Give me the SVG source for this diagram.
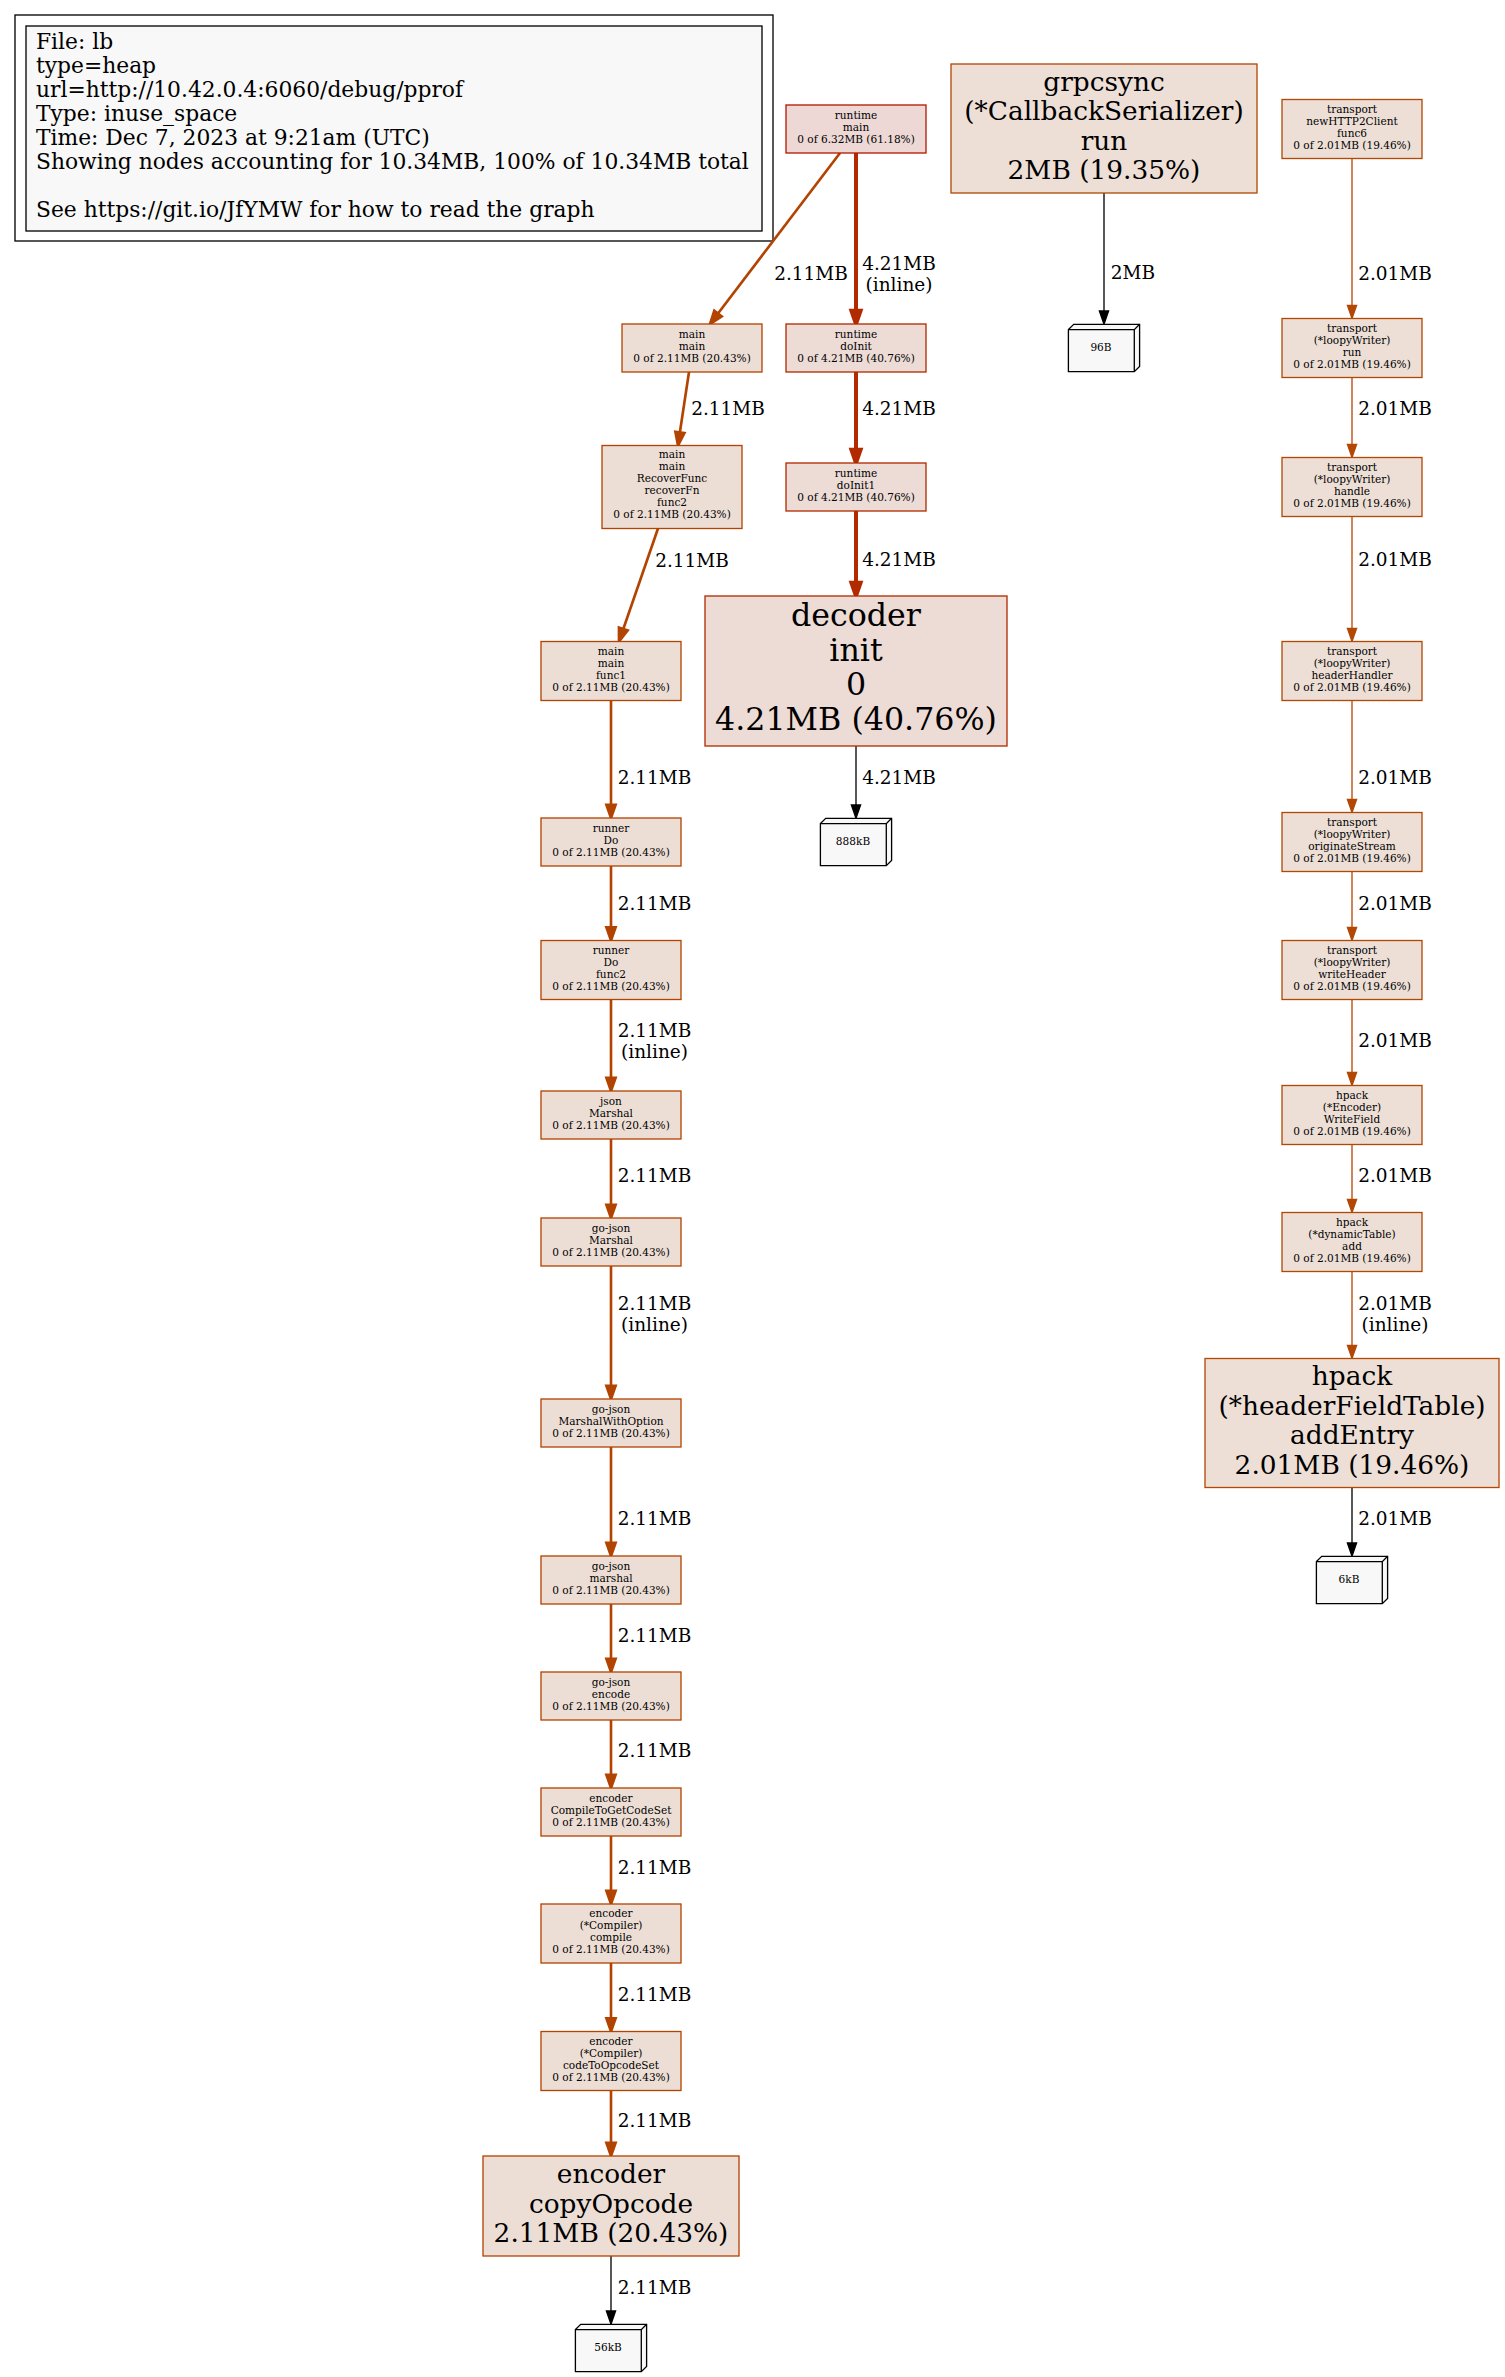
<svg xmlns="http://www.w3.org/2000/svg" width="1505" height="2377" viewBox="0 0 1505 2377">
<style>
text{font-family:"DejaVu Serif","Liberation Serif",serif;fill:#000}
.s{font-size:10.56px;text-anchor:middle}
.b{font-size:26.4px;text-anchor:middle}
.d{font-size:31.7px;text-anchor:middle}
.l{font-size:18.5px;text-anchor:middle}
.g{font-size:21.8px}
rect,path,polygon{stroke-width:1.32}
.c61{fill:#edd8d5;stroke:#b21800}
.c40{fill:#eddbd5;stroke:#b22a00}
.c20{fill:#edded5;stroke:#b24300}
.c19{fill:#eddfd6;stroke:#b24804}
.tag{fill:#f8f8f8;stroke:#000}
.e42{stroke:#b22a00;stroke-width:3.96;fill:none}
.a42{fill:#b22a00;stroke:#b22a00;stroke-width:3.96}
.e21{stroke:#b24300;stroke-width:2.64;fill:none}
.a21{fill:#b24300;stroke:#b24300;stroke-width:2.64}
.e20{stroke:#b24804;stroke-width:1.32;fill:none}
.a20{fill:#b24804;stroke:#b24804;stroke-width:1.32}
.ek{stroke:#000;stroke-width:1.32;fill:none}
.ak{fill:#000;stroke:#000;stroke-width:1.32}
</style>
<g id="legend">
<rect x="15" y="15" width="758" height="226" fill="none" stroke="#000"/>
<rect x="26" y="26" width="736" height="205" fill="#f8f8f8" stroke="#000"/>
<text class="g" x="36" y="49">File: lb</text>
<text class="g" x="36" y="73">type=heap</text>
<text class="g" x="36" y="97">url=http://10.42.0.4:6060/debug/pprof</text>
<text class="g" x="36" y="121">Type: inuse_space</text>
<text class="g" x="36" y="145">Time: Dec 7, 2023 at 9:21am (UTC)</text>
<text class="g" x="36" y="169">Showing nodes accounting for 10.34MB, 100% of 10.34MB total</text>
<text class="g" x="36" y="217">See https://git.io/JfYMW for how to read the graph</text>
</g>
<g id="connectors">
<path class="e21" d="M840,153 L718,313.5"/><polygon class="a21" points="721.7,316.3 710,324 714.3,310.7"/>
<path class="e42" d="M856,153 V310.8"/><polygon class="a42" points="851.4,310.8 856,324 860.6,310.8"/>
<path class="e21" d="M689,372 L679.9,432.3"/><polygon class="a21" points="684.5,433 678,445.5 675.4,431.7"/>
<path class="e42" d="M856,372 V449.8"/><polygon class="a42" points="851.4,449.8 856,463 860.6,449.8"/>
<path class="e21" d="M658,528.5 L623.3,629"/><polygon class="a21" points="627.65,630.5 619,641.5 618.95,627.5"/>
<path class="e42" d="M856,511 V582.8"/><polygon class="a42" points="851.4,582.8 856,596 860.6,582.8"/>
<path class="ek" d="M856,746 V805"/><polygon class="ak" points="851.4,805 856,818.3 860.6,805"/>
<path class="ek" d="M1104,193 V311"/><polygon class="ak" points="1099.4,311 1104,324.3 1108.6,311"/>
<path class="e20" d="M1352,158.5 V305.3"/><polygon class="a20" points="1347.4,305.3 1352,318.5 1356.6,305.3"/>
<path class="e20" d="M1352,377.5 V444.3"/><polygon class="a20" points="1347.4,444.3 1352,457.5 1356.6,444.3"/>
<path class="e20" d="M1352,516.5 V628.3"/><polygon class="a20" points="1347.4,628.3 1352,641.5 1356.6,628.3"/>
<path class="e20" d="M1352,700.5 V799.3"/><polygon class="a20" points="1347.4,799.3 1352,812.5 1356.6,799.3"/>
<path class="e20" d="M1352,871.5 V927.3"/><polygon class="a20" points="1347.4,927.3 1352,940.5 1356.6,927.3"/>
<path class="e20" d="M1352,999.5 V1072.3"/><polygon class="a20" points="1347.4,1072.3 1352,1085.5 1356.6,1072.3"/>
<path class="e20" d="M1352,1144.5 V1199.3"/><polygon class="a20" points="1347.4,1199.3 1352,1212.5 1356.6,1199.3"/>
<path class="e20" d="M1352,1271.5 V1345.3"/><polygon class="a20" points="1347.4,1345.3 1352,1358.5 1356.6,1345.3"/>
<path class="ek" d="M1352,1487.5 V1543"/><polygon class="ak" points="1347.4,1543 1352,1556.3 1356.6,1543"/>
<path class="e21" d="M611,700.5 V804.8"/><polygon class="a21" points="606.4,804.8 611,818 615.6,804.8"/>
<path class="e21" d="M611,866 V927.3"/><polygon class="a21" points="606.4,927.3 611,940.5 615.6,927.3"/>
<path class="e21" d="M611,999.5 V1077.8"/><polygon class="a21" points="606.4,1077.8 611,1091 615.6,1077.8"/>
<path class="e21" d="M611,1139 V1204.8"/><polygon class="a21" points="606.4,1204.8 611,1218 615.6,1204.8"/>
<path class="e21" d="M611,1266 V1385.8"/><polygon class="a21" points="606.4,1385.8 611,1399 615.6,1385.8"/>
<path class="e21" d="M611,1447 V1542.8"/><polygon class="a21" points="606.4,1542.8 611,1556 615.6,1542.8"/>
<path class="e21" d="M611,1604 V1658.8"/><polygon class="a21" points="606.4,1658.8 611,1672 615.6,1658.8"/>
<path class="e21" d="M611,1720 V1774.8"/><polygon class="a21" points="606.4,1774.8 611,1788 615.6,1774.8"/>
<path class="e21" d="M611,1836 V1890.8"/><polygon class="a21" points="606.4,1890.8 611,1904 615.6,1890.8"/>
<path class="e21" d="M611,1963 V2018.3"/><polygon class="a21" points="606.4,2018.3 611,2031.5 615.6,2018.3"/>
<path class="e21" d="M611,2090.5 V2142.8"/><polygon class="a21" points="606.4,2142.8 611,2156 615.6,2142.8"/>
<path class="ek" d="M611,2256 V2311"/><polygon class="ak" points="606.4,2311 611,2324.3 615.6,2311"/>
<text class="l" x="811" y="280">2.11MB</text>
<text class="l" x="899" y="270">4.21MB</text><text class="l" x="899" y="291">(inline)</text>
<text class="l" x="728" y="415">2.11MB</text>
<text class="l" x="899" y="415">4.21MB</text>
<text class="l" x="692" y="567">2.11MB</text>
<text class="l" x="899" y="566">4.21MB</text>
<text class="l" x="899" y="784">4.21MB</text>
<text class="l" x="1133" y="279">2MB</text>
<text class="l" x="1395" y="280">2.01MB</text>
<text class="l" x="1395" y="415">2.01MB</text>
<text class="l" x="1395" y="566">2.01MB</text>
<text class="l" x="1395" y="784">2.01MB</text>
<text class="l" x="1395" y="910">2.01MB</text>
<text class="l" x="1395" y="1047">2.01MB</text>
<text class="l" x="1395" y="1182">2.01MB</text>
<text class="l" x="1395" y="1310">2.01MB</text><text class="l" x="1395" y="1331">(inline)</text>
<text class="l" x="1395" y="1525">2.01MB</text>
<text class="l" x="654.5" y="784">2.11MB</text>
<text class="l" x="654.5" y="910">2.11MB</text>
<text class="l" x="654.5" y="1037">2.11MB</text><text class="l" x="654.5" y="1058">(inline)</text>
<text class="l" x="654.5" y="1182">2.11MB</text>
<text class="l" x="654.5" y="1310">2.11MB</text><text class="l" x="654.5" y="1331">(inline)</text>
<text class="l" x="654.5" y="1525">2.11MB</text>
<text class="l" x="654.5" y="1642">2.11MB</text>
<text class="l" x="654.5" y="1757">2.11MB</text>
<text class="l" x="654.5" y="1874">2.11MB</text>
<text class="l" x="654.5" y="2001">2.11MB</text>
<text class="l" x="654.5" y="2127">2.11MB</text>
<text class="l" x="654.5" y="2294">2.11MB</text>
</g>
<g id="runtime_main"><rect class="c61" x="786" y="105" width="140" height="48"/>
<text class="s" x="856" y="118.5">runtime</text><text class="s" x="856" y="130.5">main</text><text class="s" x="856" y="142.5">0 of 6.32MB (61.18%)</text></g>
<g id="main_main"><rect class="c20" x="622" y="324" width="140" height="48"/>
<text class="s" x="692" y="337.5">main</text><text class="s" x="692" y="349.5">main</text><text class="s" x="692" y="361.5">0 of 2.11MB (20.43%)</text></g>
<g id="runtime_doInit"><rect class="c40" x="786" y="324" width="140" height="48"/>
<text class="s" x="856" y="337.5">runtime</text><text class="s" x="856" y="349.5">doInit</text><text class="s" x="856" y="361.5">0 of 4.21MB (40.76%)</text></g>
<g id="main_recoverfunc"><rect class="c20" x="602" y="445.5" width="140" height="83"/>
<text class="s" x="672" y="458">main</text><text class="s" x="672" y="470">main</text><text class="s" x="672" y="482">RecoverFunc</text><text class="s" x="672" y="494">recoverFn</text><text class="s" x="672" y="506">func2</text><text class="s" x="672" y="518">0 of 2.11MB (20.43%)</text></g>
<g id="runtime_doInit1"><rect class="c40" x="786" y="463" width="140" height="48"/>
<text class="s" x="856" y="476.5">runtime</text><text class="s" x="856" y="488.5">doInit1</text><text class="s" x="856" y="500.5">0 of 4.21MB (40.76%)</text></g>
<g id="main_func1"><rect class="c20" x="541" y="641.5" width="140" height="59"/>
<text class="s" x="611" y="654.5">main</text><text class="s" x="611" y="666.5">main</text><text class="s" x="611" y="678.5">func1</text><text class="s" x="611" y="690.5">0 of 2.11MB (20.43%)</text></g>
<g id="decoder_init"><rect class="c40" x="705" y="596" width="302" height="150"/>
<text class="d" x="856" y="626">decoder</text><text class="d" x="856" y="660.7">init</text><text class="d" x="856" y="695.3">0</text><text class="d" x="856" y="729.9">4.21MB (40.76%)</text></g>
<g id="tag_888kB"><path class="tag" d="M825.7,818.3 H891.6 V860.4 L886.3,865.7 H820.4 V823.6 Z"/><path class="ek" d="M820.4,823.6 H886.3 L891.6,818.3 M886.3,823.6 V865.7"/>
<text class="s" x="853" y="845">888kB</text></g>
<g id="runner_do"><rect class="c20" x="541" y="818" width="140" height="48"/>
<text class="s" x="611" y="831.5">runner</text><text class="s" x="611" y="843.5">Do</text><text class="s" x="611" y="855.5">0 of 2.11MB (20.43%)</text></g>
<g id="runner_do_func2"><rect class="c20" x="541" y="940.5" width="140" height="59"/>
<text class="s" x="611" y="953.5">runner</text><text class="s" x="611" y="965.5">Do</text><text class="s" x="611" y="977.5">func2</text><text class="s" x="611" y="989.5">0 of 2.11MB (20.43%)</text></g>
<g id="json_marshal"><rect class="c20" x="541" y="1091" width="140" height="48"/>
<text class="s" x="611" y="1104.5">json</text><text class="s" x="611" y="1116.5">Marshal</text><text class="s" x="611" y="1128.5">0 of 2.11MB (20.43%)</text></g>
<g id="gojson_Marshal"><rect class="c20" x="541" y="1218" width="140" height="48"/>
<text class="s" x="611" y="1231.5">go-json</text><text class="s" x="611" y="1243.5">Marshal</text><text class="s" x="611" y="1255.5">0 of 2.11MB (20.43%)</text></g>
<g id="gojson_MarshalWithOption"><rect class="c20" x="541" y="1399" width="140" height="48"/>
<text class="s" x="611" y="1412.5">go-json</text><text class="s" x="611" y="1424.5">MarshalWithOption</text><text class="s" x="611" y="1436.5">0 of 2.11MB (20.43%)</text></g>
<g id="gojson_marshal"><rect class="c20" x="541" y="1556" width="140" height="48"/>
<text class="s" x="611" y="1569.5">go-json</text><text class="s" x="611" y="1581.5">marshal</text><text class="s" x="611" y="1593.5">0 of 2.11MB (20.43%)</text></g>
<g id="gojson_encode"><rect class="c20" x="541" y="1672" width="140" height="48"/>
<text class="s" x="611" y="1685.5">go-json</text><text class="s" x="611" y="1697.5">encode</text><text class="s" x="611" y="1709.5">0 of 2.11MB (20.43%)</text></g>
<g id="encoder_CompileToGetCodeSet"><rect class="c20" x="541" y="1788" width="140" height="48"/>
<text class="s" x="611" y="1801.5">encoder</text><text class="s" x="611" y="1813.5">CompileToGetCodeSet</text><text class="s" x="611" y="1825.5">0 of 2.11MB (20.43%)</text></g>
<g id="encoder_compile"><rect class="c20" x="541" y="1904" width="140" height="59"/>
<text class="s" x="611" y="1917">encoder</text><text class="s" x="611" y="1929">(*Compiler)</text><text class="s" x="611" y="1941">compile</text><text class="s" x="611" y="1953">0 of 2.11MB (20.43%)</text></g>
<g id="encoder_codeToOpcodeSet"><rect class="c20" x="541" y="2031.5" width="140" height="59"/>
<text class="s" x="611" y="2044.5">encoder</text><text class="s" x="611" y="2056.5">(*Compiler)</text><text class="s" x="611" y="2068.5">codeToOpcodeSet</text><text class="s" x="611" y="2080.5">0 of 2.11MB (20.43%)</text></g>
<g id="encoder_copyOpcode"><rect class="c20" x="483" y="2156" width="256" height="100"/>
<text class="b" x="611" y="2183.1">encoder</text><text class="b" x="611" y="2212.5">copyOpcode</text><text class="b" x="611" y="2241.9">2.11MB (20.43%)</text></g>
<g id="tag_56kB"><path class="tag" d="M580.7,2324.3 H646.6 V2366.4 L641.3,2371.7 H575.4 V2329.6 Z"/><path class="ek" d="M575.4,2329.6 H641.3 L646.6,2324.3 M641.3,2329.6 V2371.7"/>
<text class="s" x="608" y="2351">56kB</text></g>
<g id="grpcsync_run"><rect class="c19" x="951" y="64" width="306" height="129"/>
<text class="b" x="1104" y="90.9">grpcsync</text><text class="b" x="1104" y="120.3">(*CallbackSerializer)</text><text class="b" x="1104" y="149.7">run</text><text class="b" x="1104" y="179.1">2MB (19.35%)</text></g>
<g id="tag_96B"><path class="tag" d="M1073.7,324.3 H1139.6 V366.4 L1134.3,371.7 H1068.4 V329.6 Z"/><path class="ek" d="M1068.4,329.6 H1134.3 L1139.6,324.3 M1134.3,329.6 V371.7"/>
<text class="s" x="1101" y="351">96B</text></g>
<g id="transport_func6"><rect class="c19" x="1282" y="99.5" width="140" height="59"/>
<text class="s" x="1352" y="112.5">transport</text><text class="s" x="1352" y="124.5">newHTTP2Client</text><text class="s" x="1352" y="136.5">func6</text><text class="s" x="1352" y="148.5">0 of 2.01MB (19.46%)</text></g>
<g id="transport_run"><rect class="c19" x="1282" y="318.5" width="140" height="59"/>
<text class="s" x="1352" y="331.5">transport</text><text class="s" x="1352" y="343.5">(*loopyWriter)</text><text class="s" x="1352" y="355.5">run</text><text class="s" x="1352" y="367.5">0 of 2.01MB (19.46%)</text></g>
<g id="transport_handle"><rect class="c19" x="1282" y="457.5" width="140" height="59"/>
<text class="s" x="1352" y="470.5">transport</text><text class="s" x="1352" y="482.5">(*loopyWriter)</text><text class="s" x="1352" y="494.5">handle</text><text class="s" x="1352" y="506.5">0 of 2.01MB (19.46%)</text></g>
<g id="transport_headerHandler"><rect class="c19" x="1282" y="641.5" width="140" height="59"/>
<text class="s" x="1352" y="654.5">transport</text><text class="s" x="1352" y="666.5">(*loopyWriter)</text><text class="s" x="1352" y="678.5">headerHandler</text><text class="s" x="1352" y="690.5">0 of 2.01MB (19.46%)</text></g>
<g id="transport_originateStream"><rect class="c19" x="1282" y="812.5" width="140" height="59"/>
<text class="s" x="1352" y="825.5">transport</text><text class="s" x="1352" y="837.5">(*loopyWriter)</text><text class="s" x="1352" y="849.5">originateStream</text><text class="s" x="1352" y="861.5">0 of 2.01MB (19.46%)</text></g>
<g id="transport_writeHeader"><rect class="c19" x="1282" y="940.5" width="140" height="59"/>
<text class="s" x="1352" y="953.5">transport</text><text class="s" x="1352" y="965.5">(*loopyWriter)</text><text class="s" x="1352" y="977.5">writeHeader</text><text class="s" x="1352" y="989.5">0 of 2.01MB (19.46%)</text></g>
<g id="hpack_WriteField"><rect class="c19" x="1282" y="1085.5" width="140" height="59"/>
<text class="s" x="1352" y="1098.5">hpack</text><text class="s" x="1352" y="1110.5">(*Encoder)</text><text class="s" x="1352" y="1122.5">WriteField</text><text class="s" x="1352" y="1134.5">0 of 2.01MB (19.46%)</text></g>
<g id="hpack_add"><rect class="c19" x="1282" y="1212.5" width="140" height="59"/>
<text class="s" x="1352" y="1225.5">hpack</text><text class="s" x="1352" y="1237.5">(*dynamicTable)</text><text class="s" x="1352" y="1249.5">add</text><text class="s" x="1352" y="1261.5">0 of 2.01MB (19.46%)</text></g>
<g id="hpack_addEntry"><rect class="c19" x="1205" y="1358.5" width="294" height="129"/>
<text class="b" x="1352" y="1385.4">hpack</text><text class="b" x="1352" y="1414.8">(*headerFieldTable)</text><text class="b" x="1352" y="1444.2">addEntry</text><text class="b" x="1352" y="1473.6">2.01MB (19.46%)</text></g>
<g id="tag_6kB"><path class="tag" d="M1321.7,1556.3 H1387.6 V1598.4 L1382.3,1603.7 H1316.4 V1561.6 Z"/><path class="ek" d="M1316.4,1561.6 H1382.3 L1387.6,1556.3 M1382.3,1561.6 V1603.7"/>
<text class="s" x="1349" y="1583">6kB</text></g>
</svg>
